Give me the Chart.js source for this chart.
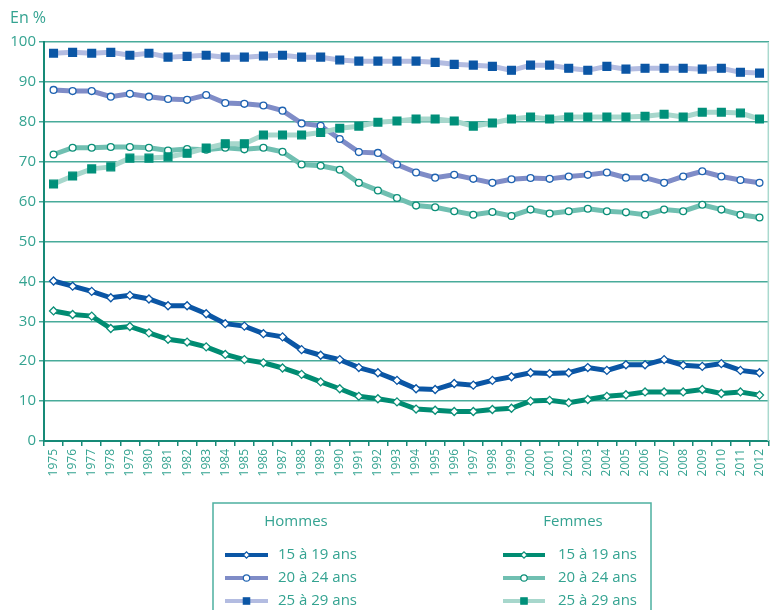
<!DOCTYPE html>
<html>
<head>
<meta charset="utf-8">
<script src="https://cdn.jsdelivr.net/npm/chart.js@4.4.1/dist/chart.umd.min.js"></script>
<style>
  html, body { margin: 0; padding: 0; background: #fff; }
  #wrap { position: relative; width: 777px; height: 610px; }
</style>
</head>
<body>
<div id="wrap"><canvas id="chart" width="777" height="610"></canvas></div>
<script>
// Données (en %)
const annees = [];
for (let a = 1975; a <= 2012; a++) annees.push(String(a));

const hommes15_19 = [40.1, 38.8, 37.5, 35.9, 36.5, 35.6, 33.9, 33.9, 31.9, 29.4,
  28.8, 26.9, 26.1, 22.9, 21.5, 20.4, 18.4, 17.1, 15.2, 13.1,
  12.9, 14.4, 14.0, 15.2, 16.1, 17.1, 16.9, 17.1, 18.4, 17.7,
  19.1, 19.1, 20.4, 19.0, 18.7, 19.4, 17.7, 17.1];
const hommes20_24 = [88.0, 87.7, 87.7, 86.3, 87.0, 86.3, 85.7, 85.5, 86.7, 84.7,
  84.5, 84.1, 82.8, 79.6, 79.0, 75.7, 72.4, 72.2, 69.3, 67.3,
  66.0, 66.7, 65.7, 64.7, 65.6, 65.9, 65.7, 66.3, 66.7, 67.3,
  66.0, 66.0, 64.7, 66.3, 67.6, 66.3, 65.4, 64.7];
const hommes25_29 = [97.2, 97.4, 97.2, 97.4, 96.7, 97.2, 96.2, 96.4, 96.7, 96.2,
  96.2, 96.5, 96.7, 96.2, 96.2, 95.5, 95.2, 95.2, 95.2, 95.2,
  94.9, 94.4, 94.2, 93.9, 92.9, 94.2, 94.2, 93.4, 92.9, 93.9,
  93.2, 93.4, 93.4, 93.4, 93.2, 93.4, 92.4, 92.2];
const femmes15_19 = [32.6, 31.7, 31.3, 28.2, 28.7, 27.1, 25.5, 24.8, 23.6, 21.7,
  20.4, 19.6, 18.3, 16.7, 14.8, 13.1, 11.2, 10.6, 9.8, 8.0,
  7.7, 7.4, 7.4, 7.9, 8.2, 10.0, 10.2, 9.6, 10.4, 11.2,
  11.6, 12.3, 12.3, 12.3, 12.9, 11.9, 12.3, 11.5];
const femmes20_24 = [71.8, 73.5, 73.5, 73.7, 73.7, 73.5, 72.8, 73.2, 73.0, 73.5,
  73.1, 73.5, 72.5, 69.3, 69.0, 68.0, 64.7, 62.8, 60.9, 59.0,
  58.6, 57.6, 56.7, 57.4, 56.4, 58.0, 57.0, 57.6, 58.2, 57.6,
  57.3, 56.7, 58.0, 57.6, 59.2, 58.0, 56.7, 56.0];
const femmes25_29 = [64.4, 66.4, 68.2, 68.7, 70.9, 70.9, 71.2, 72.1, 73.4, 74.5,
  74.5, 76.7, 76.7, 76.7, 77.3, 78.4, 78.9, 79.9, 80.2, 80.7,
  80.7, 80.2, 78.9, 79.7, 80.7, 81.2, 80.7, 81.2, 81.2, 81.2,
  81.2, 81.4, 81.9, 81.2, 82.4, 82.4, 82.2, 80.7];

const trancheLabels = ['15 à 19 ans', '20 à 24 ans', '25 à 29 ans'];

const TEAL_TXT = '#34a391';
const TEAL_GRID = '#48ab9a';
const TEAL_AXIS = '#168a77';
const FONT = "'Open Sans', 'DejaVu Sans', sans-serif";

const serie = (label, data, line, style, pointFill, pointBorder, radius) => ({
  label,
  data,
  borderColor: line,
  backgroundColor: line,
  borderWidth: 5,
  tension: 0,
  pointStyle: style,
  pointRadius: radius,
  pointHoverRadius: radius,
  pointBackgroundColor: pointFill,
  pointBorderColor: pointBorder,
  pointBorderWidth: 1.3
});

const datasets = [
  serie(trancheLabels[2], hommes25_29, '#b3bce1', 'rect', '#0b56a5', '#0b56a5', 5.5),
  serie(trancheLabels[2], femmes25_29, '#a7d7cc', 'rect', '#00907a', '#00907a', 5.5),
  serie(trancheLabels[1], femmes20_24, '#70bfb1', 'circle', '#fff', '#0b8f78', 3.4),
  serie(trancheLabels[1], hommes20_24, '#7f8cc7', 'circle', '#fff', '#1f63b1', 3.4),
  serie(trancheLabels[0], femmes15_19, '#008c72', 'rectRot', '#fff', '#0b8f78', 4),
  serie(trancheLabels[0], hommes15_19, '#0b56a5', 'rectRot', '#fff', '#0b56a5', 4)
];

// "En %", bordure droite et légende dessinées à la main
const decorPlugin = {
  id: 'decor',
  afterDraw(chart) {
    const ctx = chart.ctx;
    const area = chart.chartArea;
    ctx.save();

    ctx.strokeStyle = '#a9d9ce';
    ctx.lineWidth = 1.5;
    ctx.beginPath();
    ctx.moveTo(area.right - 0.75, area.top);
    ctx.lineTo(area.right - 0.75, area.bottom);
    ctx.stroke();

    ctx.fillStyle = TEAL_TXT;
    ctx.textBaseline = 'middle';
    ctx.textAlign = 'left';
    ctx.font = '16px ' + FONT;
    ctx.fillText('En %', 10, 18);

    // cadre de légende
    ctx.font = '15px ' + FONT;
    ctx.strokeStyle = '#4db0a0';
    ctx.lineWidth = 1.5;
    ctx.strokeRect(213, 503, 438, 120);

    ctx.textAlign = 'center';
    ctx.fillText('Hommes', 296, 522);
    ctx.fillText('Femmes', 573, 522);

    const rowsY = [555, 578, 601];
    const cols = { H: { x0: 225, x1: 268, tx: 278 }, F: { x0: 503, x1: 545, tx: 558 } };
    const ds = chart.data.datasets;
    const byAge = { H: [ds[5], ds[3], ds[0]], F: [ds[4], ds[2], ds[1]] };
    ['H', 'F'].forEach(g => {
      const c = cols[g];
      byAge[g].forEach((d, i) => {
        const y = rowsY[i];
        ctx.strokeStyle = d.borderColor;
        ctx.lineWidth = 4;
        ctx.beginPath();
        ctx.moveTo(c.x0, y);
        ctx.lineTo(c.x1, y);
        ctx.stroke();
        ctx.fillStyle = d.pointBackgroundColor;
        ctx.strokeStyle = d.pointBorderColor;
        ctx.lineWidth = 1.2;
        Chart.helpers.drawPoint(ctx, {
          pointStyle: d.pointStyle,
          rotation: 0,
          radius: d.pointStyle === 'rect' ? 4.5 : 3.2,
          borderWidth: 1.2
        }, (c.x0 + c.x1) / 2, y);
        ctx.fillStyle = TEAL_TXT;
        ctx.textAlign = 'left';
        ctx.fillText(d.label, c.tx, y);
      });
    });
    ctx.restore();
  }
};

new Chart(document.getElementById('chart'), {
  type: 'line',
  data: { labels: annees, datasets },
  plugins: [decorPlugin],
  options: {
    responsive: false,
    animation: false,
    layout: { padding: { top: 42, right: 0, left: 0, bottom: 0 } },
    plugins: {
      legend: { display: false },
      tooltip: { enabled: false }
    },
    scales: {
      x: {
        offset: true,
        afterFit: s => { s.height = 169; },
        border: { color: TEAL_AXIS, width: 2 },
        grid: {
          offset: true,
          drawOnChartArea: false,
          drawTicks: true,
          tickLength: 5,
          color: TEAL_AXIS,
          lineWidth: 1.5
        },
        ticks: {
          minRotation: 90,
          maxRotation: 90,
          autoSkip: false,
          padding: 3,
          color: TEAL_TXT,
          font: { family: FONT, size: 12 }
        }
      },
      y: {
        min: 0,
        max: 100,
        afterFit: s => { s.width = 44; },
        border: { color: TEAL_AXIS, width: 2 },
        grid: {
          color: TEAL_GRID,
          lineWidth: 1.5,
          tickLength: 5
        },
        ticks: {
          stepSize: 10,
          padding: 3,
          color: TEAL_TXT,
          font: { family: FONT, size: 15 }
        }
      }
    }
  }
});
</script>
</body>
</html>
